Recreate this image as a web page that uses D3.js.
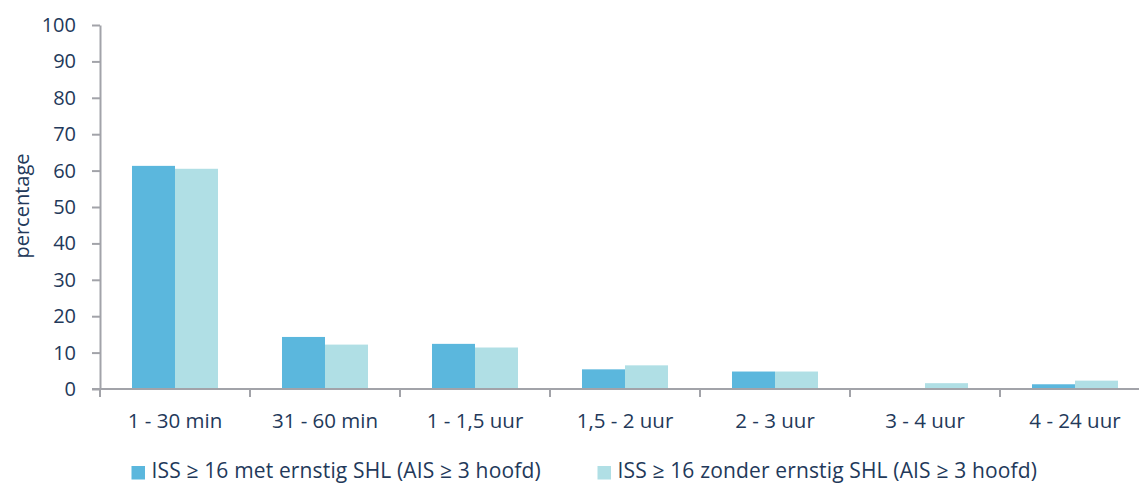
<!DOCTYPE html>
<html>
<head>
<meta charset="utf-8">
<script src="https://cdn.jsdelivr.net/npm/d3@7"></script>
<style>
  html, body { margin: 0; padding: 0; background: #ffffff; }
  svg { display: block; }
  text { font-family: "Open Sans", "Noto Sans", sans-serif; fill: #23395A; }
</style>
</head>
<body>
<svg id="chart" width="1139" height="484"></svg>
<script>
// Time-to-hospital categories
const categories = ["1 - 30 min", "31 - 60 min", "1 - 1,5 uur", "1,5 - 2 uur", "2 - 3 uur", "3 - 4 uur", "4 - 24 uur"];
// Series names
const seriesNames = [
  "ISS \u2265 16 met ernstig SHL (AIS \u2265 3 hoofd)",
  "ISS \u2265 16 zonder ernstig SHL (AIS \u2265 3 hoofd)"
];
// Percentages per category
const metSHL    = [61.3, 14.3, 12.4, 5.4, 4.8, 0.0, 1.3];
const zonderSHL = [60.5, 12.2, 11.4, 6.5, 4.8, 1.6, 2.3];
// Y axis ticks
const yTicks = [0, 10, 20, 30, 40, 50, 60, 70, 80, 90, 100];

const colors = ["#5BB7DD", "#B0DFE5"];
const axisColor = "#A2A3A9";
const fontSize = 20;

const svg = d3.select("#chart");

const x0 = d3.scaleBand().domain(categories).range([100, 1150]).padding(0);
const x1 = d3.scaleBand().domain([0, 1]).range([0, x0.bandwidth()])
  .paddingInner(0).paddingOuter(0.744);
const y = d3.scaleLinear().domain([0, 100]).range([389, 25]);

// Bars
const rows = categories.map((c, i) => ({ c, v: [metSHL[i], zonderSHL[i]] }));
const g = svg.append("g");
g.selectAll("g.cat").data(rows).join("g")
  .attr("class", "cat")
  .attr("transform", d => `translate(${x0(d.c)},0)`)
  .selectAll("rect").data(d => d.v.map((v, s) => ({ v, s })))
  .join("rect")
  .attr("x", d => x1(d.s))
  .attr("width", x1.bandwidth())
  .attr("y", d => y(d.v))
  .attr("height", d => y(0) - y(d.v))
  .attr("fill", d => colors[d.s]);

// Y axis
const yAxis = svg.append("g")
  .attr("transform", "translate(100,0)")
  .call(d3.axisLeft(y).tickValues(yTicks).tickSize(8).tickPadding(16).tickSizeOuter(0));
yAxis.select(".domain").attr("stroke", axisColor).attr("stroke-width", 2);
yAxis.selectAll(".tick line").attr("stroke", axisColor).attr("stroke-width", 2);
yAxis.selectAll(".tick text").attr("font-size", fontSize).attr("font-family", null).attr("fill", null);

// X axis: baseline with tick marks at category boundaries
const xAxisG = svg.append("g");
xAxisG.append("line")
  .attr("x1", 92).attr("x2", 1150)
  .attr("y1", y(0)).attr("y2", y(0))
  .attr("stroke", axisColor).attr("stroke-width", 2);
const bounds = categories.map(c => x0(c));
xAxisG.selectAll("line.tk").data(bounds).join("line")
  .attr("class", "tk")
  .attr("x1", d => d).attr("x2", d => d)
  .attr("y1", y(0)).attr("y2", y(0) + 8)
  .attr("stroke", axisColor).attr("stroke-width", 2);
xAxisG.selectAll("text").data(categories).join("text")
  .attr("x", d => x0(d) + x0.bandwidth() / 2)
  .attr("y", 428)
  .attr("text-anchor", "middle")
  .attr("font-size", 20.5)
  .text(d => d);

// Y axis title
svg.append("text")
  .attr("transform", "translate(29,206) rotate(-90)")
  .attr("text-anchor", "middle")
  .attr("font-size", fontSize)
  .text("percentage");

// Legend
const legendX = [131.5, 597.5];
const legend = svg.append("g");
seriesNames.forEach((name, i) => {
  legend.append("rect")
    .attr("x", legendX[i]).attr("y", 466)
    .attr("width", 13.5).attr("height", 13.5)
    .attr("fill", colors[i]);
  legend.append("text")
    .attr("x", legendX[i] + 20).attr("y", 478)
    .attr("font-size", 21)
    .attr("letter-spacing", 0.15)
    .text(name);
});
</script>
</body>
</html>
